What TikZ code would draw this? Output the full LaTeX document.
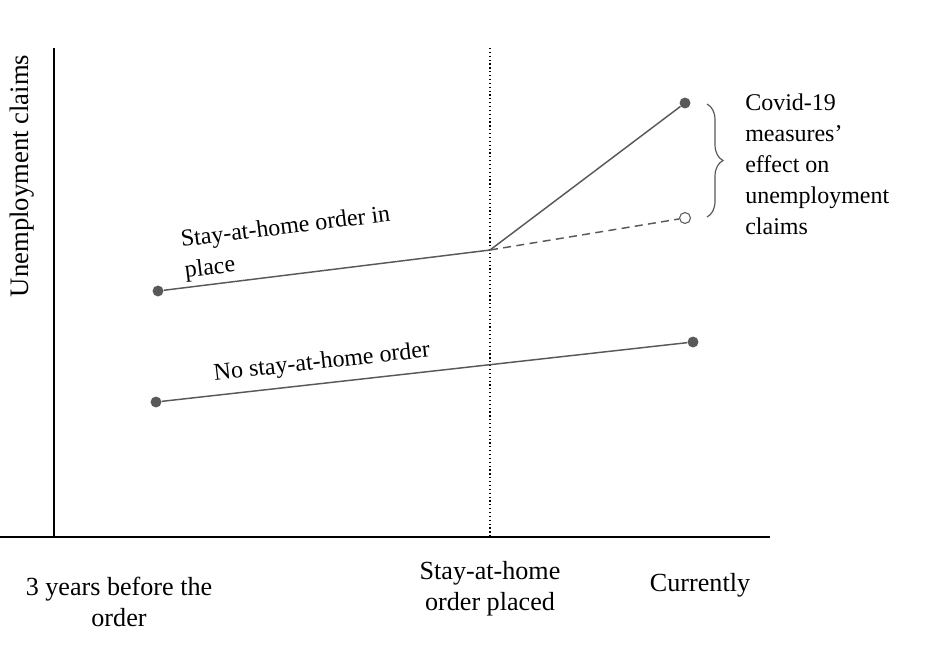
\documentclass[tikz,border=0pt]{standalone}
\usepackage{fontspec}
\setmainfont{Liberation Serif}
\usepackage{tikz}
\usetikzlibrary{shapes,arrows,decorations.pathreplacing}
\definecolor{lgray}{RGB}{89,89,89}
\begin{document}
\begin{tikzpicture}[x=0.75pt, y=-0.75pt,
  lab/.style={font=\fontsize{18}{23.25}\selectfont, inner sep=0},
  axlab/.style={font=\fontsize{19.6}{23.5}\selectfont, inner sep=0},
  trend/.style={line width=1.1pt, lgray},
  dot/.style={circle, fill=lgray, inner sep=0, minimum size=8.2pt},
  hollow/.style={circle, draw=lgray, fill=white, line width=0.8pt, inner sep=0, minimum size=8.2pt}]
\useasboundingbox (0,0) rectangle (930,650);
\coordinate (ytop) at (54,48);
\coordinate (origin) at (54,537);
\coordinate (xleft) at (0,537);
\coordinate (xright) at (770,537);
\coordinate (ordtop) at (490,48);
\coordinate (ordbot) at (490,537);
\coordinate (split) at (490,250);
\draw[line width=1.1pt, black] (ytop) -- (origin);
\draw[line width=1.3pt, black] (xleft) -- (xright);
\draw[line width=0.9pt, black, dotted] (ordtop) -- (ordbot);
\node[dot] (stay0) at (158,291) {};
\node[dot] (stay1) at (685,103) {};
\node[hollow] (stay2) at (685,218) {};
\node[dot] (none0) at (156,402) {};
\node[dot] (none1) at (693,342) {};
\draw[trend] (stay0) -- (split);
\draw[trend] (split) -- (stay1);
\draw[trend, dash pattern=on 6pt off 4pt] (split) -- (stay2);
\draw[trend] (none0) -- (none1);
\coordinate (brtop) at (707,104);
\coordinate (brbot) at (707,217);
\draw[line width=0.9pt, lgray, decorate, decoration={brace, amplitude=12pt}] (brtop) -- (brbot);
\node[axlab, font=\fontsize{20}{24}\selectfont, rotate=90] (ylab) at (22,176) {Unemployment claims};
\node[lab, align=left, anchor=west] (effect) at (745,164) {Covid-19\\measures'\\effect on\\unemployment\\claims};
\node[lab, rotate=7, align=left, anchor=south west] (staylab) at (186,283) {Stay-at-home order in\\place};
\node[lab, rotate=6.4] (nonelab) at (322,363) {No stay-at-home order};
\node[axlab, align=center] (tbefore) at (119,602) {3 years before the\\order};
\node[axlab, align=center] (tplaced) at (490,589) {Stay-at-home\\order placed};
\node[axlab] (tnow) at (700,585) {Currently};
\end{tikzpicture}
\end{document}
